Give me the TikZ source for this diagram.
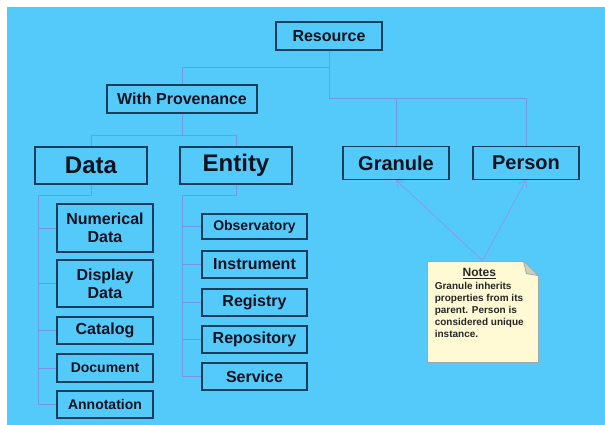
\documentclass[tikz,border=0pt]{standalone}
\usepackage{fontspec}
\setmainfont{Liberation Sans}
\usetikzlibrary{calc, arrows.meta}

\definecolor{sky}{RGB}{84,202,250}
\definecolor{boxline}{RGB}{22,62,92}
\definecolor{linkcol}{RGB}{112,152,228}
\definecolor{notelink}{RGB}{140,152,228}
\definecolor{ink}{RGB}{8,18,32}
\definecolor{notefill}{RGB}{255,250,212}
\definecolor{noteline}{RGB}{160,166,172}
\definecolor{foldgray}{RGB}{206,206,190}

\begin{document}
\begin{tikzpicture}[x=1pt, y=-1pt, >={Straight Barb[length=6pt, width=9pt]},
	box/.style={draw=boxline, line width=1.2pt, fill=sky, text=ink,
		inner sep=0pt, align=center, font=\bfseries},
	fs/.style={font=\fontsize{#1}{18}\selectfont\bfseries},
	link/.style={draw=linkcol, line width=0.7pt}]

	\useasboundingbox (0, 0) rectangle (605, 425);
	\fill[sky] (7, 7) rectangle (605, 425);

	% top of the tree
	\node[box, fs=16, minimum width=106, minimum height=28] (res) at (329, 36) {Resource};
	\node[box, fs=16, minimum width=150, minimum height=28] (prov) at (182, 99) {With Provenance};
	\node[box, fs=24, minimum width=112, minimum height=37] (data) at (91, 165.5) {Data};
	\node[box, fs=24, minimum width=112, minimum height=37] (ent) at (236, 165.5) {Entity};
	\node[box, fs=20, minimum width=106, minimum height=33] (gran) at (396, 163) {Granule};
	\node[box, fs=20, minimum width=106, minimum height=33] (pers) at (526, 163) {Person};

	% data kinds
	\node[box, fs=16, minimum width=96, minimum height=48] (num) at (105, 228) {Numerical\\Data};
	\node[box, fs=16, minimum width=96, minimum height=47] (disp) at (105, 283.5) {Display\\Data};
	\node[box, fs=16, minimum width=96, minimum height=27] (cat) at (105, 330.5) {Catalog};
	\node[box, fs=14, minimum width=96, minimum height=28] (doc) at (105, 368) {Document};
	\node[box, fs=14, minimum width=96, minimum height=27] (annot) at (105, 404.5) {Annotation};

	% entity kinds
	\node[box, fs=14, minimum width=105, minimum height=25] (obs) at (254.5, 226.5) {Observatory};
	\node[box, fs=16, minimum width=105, minimum height=27] (inst) at (254.5, 264.5) {Instrument};
	\node[box, fs=16, minimum width=105, minimum height=27] (reg) at (254.5, 302.5) {Registry};
	\node[box, fs=16, minimum width=105, minimum height=27] (repo) at (254.5, 339.5) {Repository};
	\node[box, fs=16, minimum width=105, minimum height=27] (serv) at (254.5, 376.5) {Service};

	\draw[link] (res.south) -- ++(0, 17) -| (prov.north);
	\draw[link] (res.south) -- ++(0, 48) -| (gran.north);
	\draw[link] (res.south) -- ++(0, 48) -| (pers.north);
	\draw[link] (prov.south) -- ++(0, 22) -| (data.north);
	\draw[link] (prov.south) -- ++(0, 22) -| (ent.north);

	\draw[link] (data.south) -- ++(0, 11) -| ($(annot.west) + (-18, 0)$) -- (annot.west);
	\foreach \k in {num, disp, cat, doc}
		\draw[link] (\k.west) -- ++(-18, 0);

	\draw[link] (ent.south) -- ++(0, 11) -| ($(serv.west) + (-19, 0)$) -- (serv.west);
	\foreach \k in {obs, inst, reg, repo}
		\draw[link] (\k.west) -- ++(-19, 0);

	% the note with its dog-ear
	\node[draw=noteline, line width=0.8pt, fill=notefill, minimum width=111,
		minimum height=101, inner sep=0pt] (notes) at (482.5, 311.5) {};
	\fill[sky] ($(notes.north east) + (-16.5, -1.5)$) -- ($(notes.north east) + (1.5, -1.5)$)
		-- ($(notes.north east) + (1.5, 16.5)$) -- cycle;
	\draw[noteline, line width=0.8pt, fill=foldgray] ($(notes.north east) + (-15, 0)$)
		-- ($(notes.north east) + (0, 15)$) -- ($(notes.north east) + (-12, 13)$) -- cycle;
	\node[anchor=north west, inner sep=0pt, text=black!85, align=left]
		(notetxt) at ($(notes.north west) + (8, 7)$)
		{\begin{tabular}{@{}l@{}}
			\multicolumn{1}{@{}c@{}}{\fontsize{12}{13}\selectfont\bfseries\underline{Notes}}\\[1.5pt]
			\fontsize{10}{12.4}\selectfont\bfseries Granule inherits\\
			\fontsize{10}{12.4}\selectfont\bfseries properties from its\\
			\fontsize{10}{12.4}\selectfont\bfseries parent. Person is\\
			\fontsize{10}{12.4}\selectfont\bfseries considered unique\\
			\fontsize{10}{12.4}\selectfont\bfseries instance.
		\end{tabular}};

	\draw[link, draw=notelink, ->] (notes.north) -- (gran.south);
	\draw[link, draw=notelink, ->] (notes.north) -- (pers.south);

\end{tikzpicture}
\end{document}
